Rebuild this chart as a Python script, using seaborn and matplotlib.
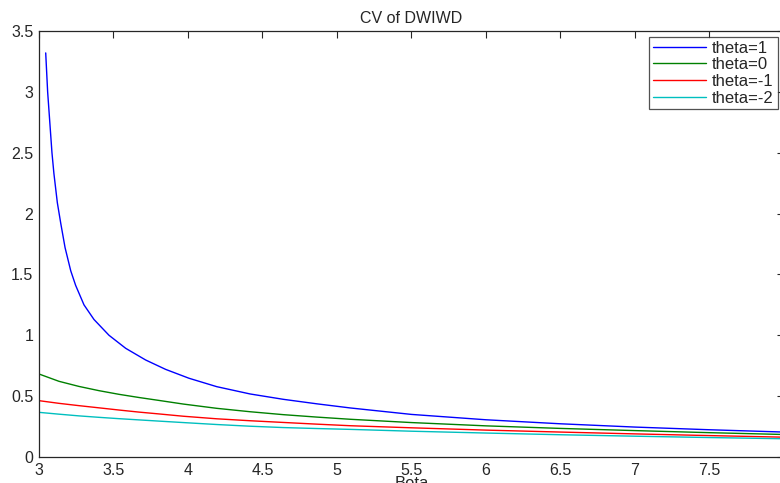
import numpy as np
import pandas as pd
import matplotlib
matplotlib.use("Agg")
import matplotlib.pyplot as plt
import seaborn as sns

# Values
beta_t1 = [3.045, 3.058, 3.087, 3.10, 3.123, 3.146, 3.175, 3.213, 3.246, 3.302, 3.369,
           3.47, 3.582, 3.716, 3.85, 4.007, 4.193, 4.417, 4.64, 4.865, 5.09,
           5.5, 6.0, 6.5, 7.0, 7.5, 8.0]
cv_t1 = [3.32, 3.00, 2.50, 2.33, 2.09, 1.92, 1.72, 1.53, 1.41, 1.25, 1.13,
         1.00, 0.893, 0.797, 0.72, 0.647, 0.578, 0.518, 0.474, 0.437, 0.403,
         0.350, 0.306, 0.273, 0.246, 0.224, 0.205]

beta_grid = [3.0, 3.134, 3.268, 3.403, 3.537, 3.671, 3.805, 3.969, 4.193, 4.417,
             4.64, 4.865, 5.09, 5.5, 6.0, 6.5, 7.0, 7.5, 8.0]
cv_t0 = [0.682, 0.622, 0.580, 0.545, 0.515, 0.489, 0.465, 0.435, 0.400, 0.372,
         0.348, 0.328, 0.31, 0.283, 0.256, 0.235, 0.217, 0.200, 0.185]
cv_tm1 = [0.463, 0.441, 0.422, 0.404, 0.386, 0.369, 0.354, 0.335, 0.314, 0.298,
          0.284, 0.270, 0.257, 0.240, 0.221, 0.205, 0.190, 0.176, 0.163]
cv_tm2 = [0.367, 0.352, 0.338, 0.326, 0.315, 0.305, 0.295, 0.283, 0.267, 0.253,
          0.242, 0.234, 0.227, 0.212, 0.197, 0.183, 0.171, 0.160, 0.150]

labels = ["theta=1", "theta=0", "theta=-1", "theta=-2"]
colors = ["#0000ff", "#008000", "#ff0000", "#00bfbf"]

frames = [
    pd.DataFrame({"Beta": beta_t1, "CV": cv_t1, "series": labels[0]}),
    pd.DataFrame({"Beta": beta_grid, "CV": cv_t0, "series": labels[1]}),
    pd.DataFrame({"Beta": beta_grid, "CV": cv_tm1, "series": labels[2]}),
    pd.DataFrame({"Beta": beta_grid, "CV": cv_tm2, "series": labels[3]}),
]
df = pd.concat(frames, ignore_index=True)

sns.set_style("white")
plt.rcParams["font.family"] = ["Liberation Sans", "DejaVu Sans"]

fig = plt.figure(figsize=(7.8, 4.83), dpi=100)
ax = fig.add_axes([0.05, 0.0538, 0.955, 0.882])

sns.lineplot(data=df, x="Beta", y="CV", hue="series", hue_order=labels,
             palette=colors, linewidth=1.0, ax=ax, sort=True)

ax.set_xlim(3, 8)
ax.set_ylim(0, 3.5)
ax.set_xticks([3, 3.5, 4, 4.5, 5, 5.5, 6, 6.5, 7, 7.5])
ax.set_xticklabels(["3", "3.5", "4", "4.5", "5", "5.5", "6", "6.5", "7", "7.5"])
ax.set_yticks([0, 0.5, 1, 1.5, 2, 2.5, 3, 3.5])
ax.set_yticklabels(["0", "0.5", "1", "1.5", "2", "2.5", "3", "3.5"])
ax.tick_params(direction="in", length=5, width=0.8, top=True, right=True,
               labelsize=11.5, colors="#262626", pad=4)
for s in ax.spines.values():
    s.set_color("#262626")
    s.set_linewidth(0.9)

ax.set_title("CV of DWIWD", fontsize=11.5, pad=6)
ax.set_xlabel("Beta", fontsize=12, labelpad=-1)
ax.set_ylabel("")

leg = ax.legend(loc="upper right", bbox_to_anchor=(0.9915, 0.986), fontsize=12,
                handlelength=3.2, frameon=True, fancybox=False, borderpad=0.22,
                labelspacing=0.1, handletextpad=0.35, borderaxespad=0.0)
leg.get_frame().set_edgecolor("#262626")
leg.get_frame().set_linewidth(0.9)
leg.set_title(None)

fig.savefig("out.png", dpi=100)
